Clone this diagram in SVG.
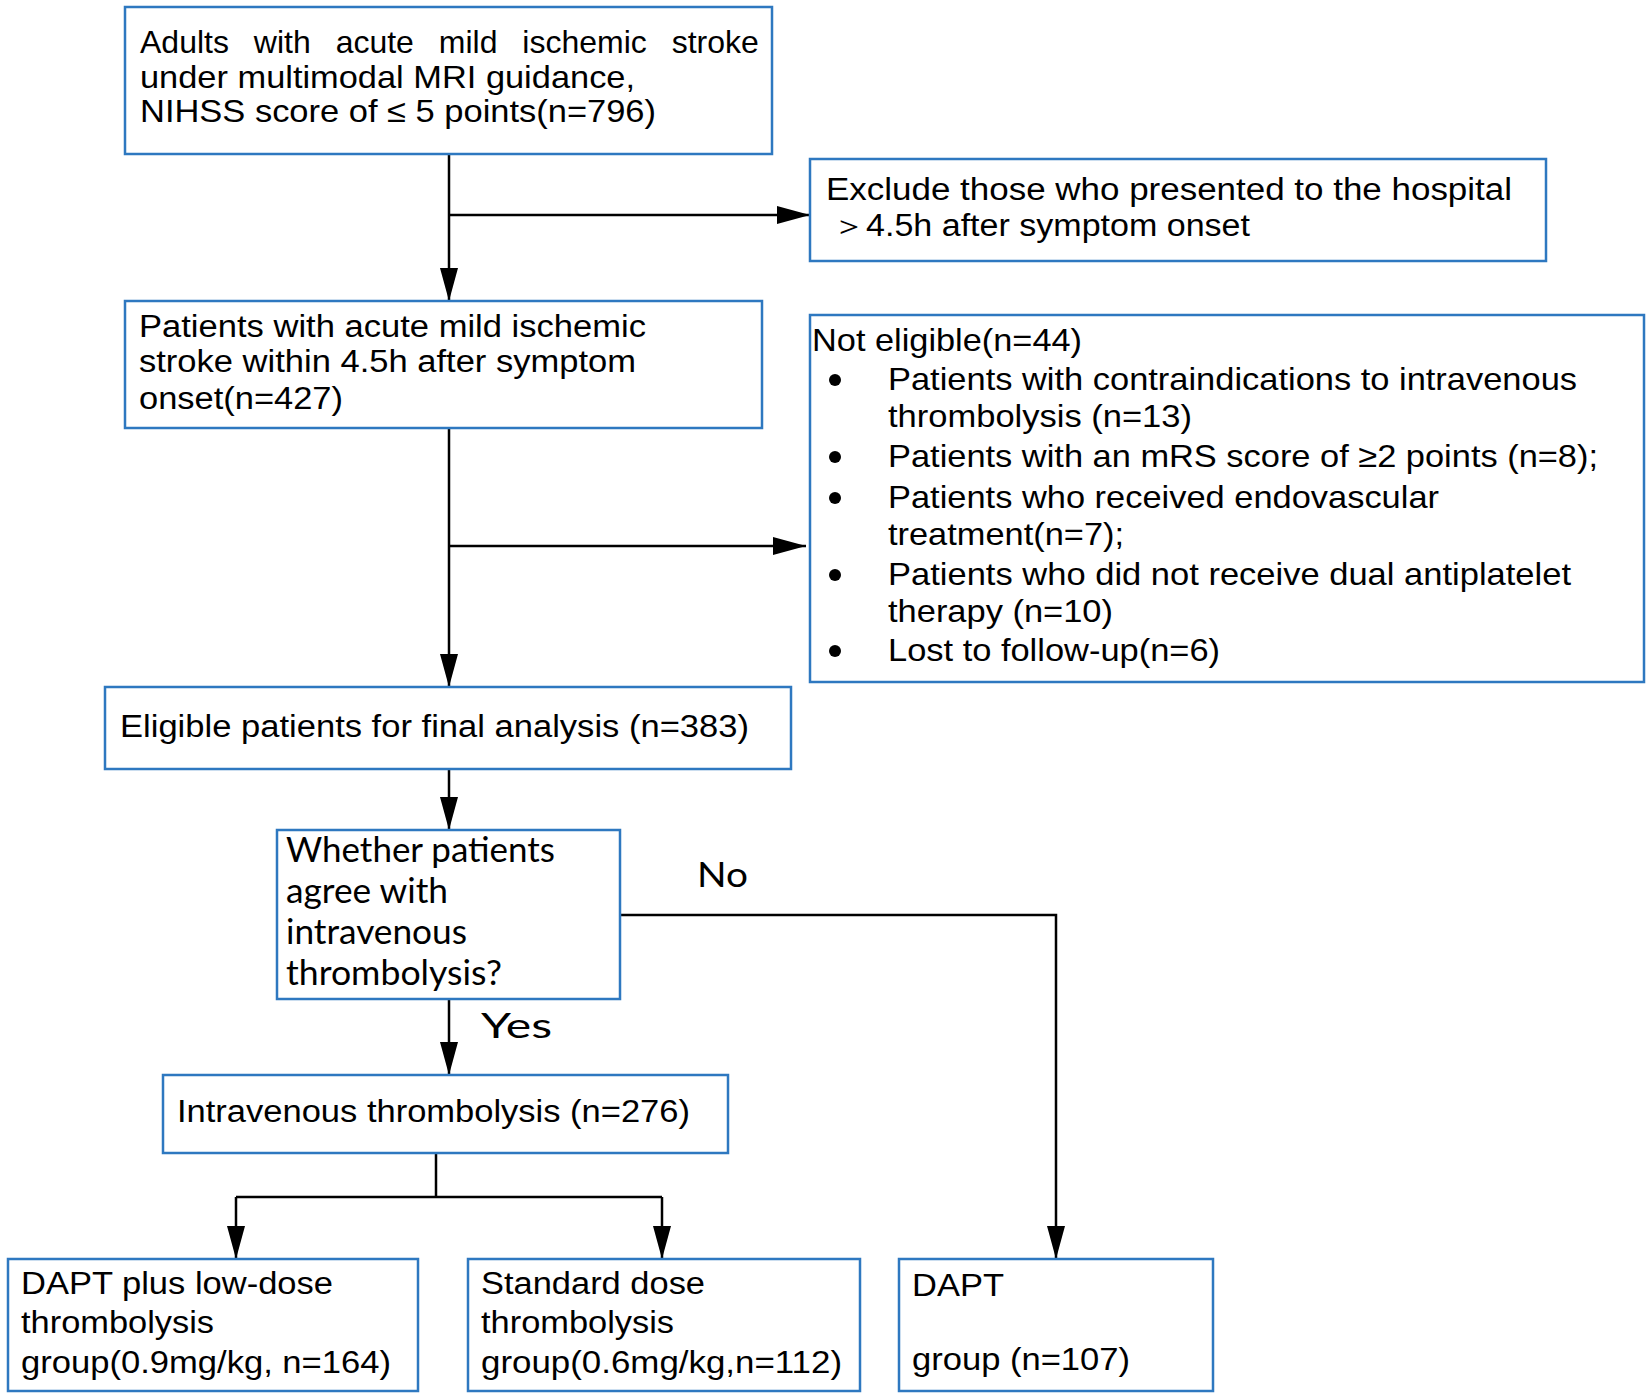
<svg xmlns="http://www.w3.org/2000/svg" width="1652" height="1399" viewBox="0 0 1652 1399">
<style>
.box{fill:#fff;stroke:#2e78c0;stroke-width:2.5}
.t{font-family:"Liberation Sans",Arial,sans-serif;font-size:31px;fill:#000}
.b1{font-family:"Liberation Sans",Arial,sans-serif;font-size:32px;fill:#000}
.n{font-family:"Liberation Sans",Arial,sans-serif;font-size:32px;fill:#000}
.c{font-family:Lato,"Open Sans",sans-serif;font-size:34px;fill:#000}
.ln{fill:none;stroke:#000;stroke-width:2.5}
</style>
<defs>
<marker id="ah" markerUnits="userSpaceOnUse" markerWidth="34" markerHeight="20" refX="33" refY="9" orient="auto">
<path d="M0,0 L33,9 L0,18 z" fill="#000"/>
</marker>
</defs>
<rect width="1652" height="1399" fill="#fff"/>
<g id="connectors">
<path class="ln" d="M449,154 V301" marker-end="url(#ah)"/>
<path class="ln" d="M449,215 H810" marker-end="url(#ah)"/>
<path class="ln" d="M449,428 V687" marker-end="url(#ah)"/>
<path class="ln" d="M449,546 H806" marker-end="url(#ah)"/>
<path class="ln" d="M449,769 V830" marker-end="url(#ah)"/>
<path class="ln" d="M449,999 V1075" marker-end="url(#ah)"/>
<path class="ln" d="M620,915 H1056 V1259" marker-end="url(#ah)"/>
<path class="ln" d="M436,1153 V1197"/>
<path class="ln" d="M236,1197 H662"/>
<path class="ln" d="M236,1197 V1259" marker-end="url(#ah)"/>
<path class="ln" d="M662,1197 V1259" marker-end="url(#ah)"/>
<text class="c" x="697" y="887" textLength="51" lengthAdjust="spacingAndGlyphs">No</text>
<text class="c" x="481" y="1038" textLength="71" lengthAdjust="spacingAndGlyphs">Yes</text>
</g>
<g id="n1">
<rect class="box" x="125" y="7" width="647" height="147"/>
<text class="b1" x="140" y="53" word-spacing="16">Adults with acute mild ischemic stroke</text>
<text class="b1" x="140" y="88" textLength="495" lengthAdjust="spacingAndGlyphs">under multimodal MRI guidance,</text>
<text class="b1" x="140" y="122" textLength="516" lengthAdjust="spacingAndGlyphs">NIHSS score of ≤ 5 points(n=796)</text>
</g>
<g id="n2">
<rect class="box" x="810" y="159" width="736" height="102"/>
<text class="t" x="826" y="200" textLength="686" lengthAdjust="spacingAndGlyphs">Exclude those who presented to the hospital</text>
<text class="t" x="832" y="236" textLength="418" lengthAdjust="spacingAndGlyphs">＞4.5h after symptom onset</text>
</g>
<g id="n3">
<rect class="box" x="125" y="301" width="637" height="127"/>
<text class="t" x="139" y="337" textLength="507" lengthAdjust="spacingAndGlyphs">Patients with acute mild ischemic</text>
<text class="t" x="139" y="372" textLength="497" lengthAdjust="spacingAndGlyphs">stroke within 4.5h after symptom</text>
<text class="t" x="139" y="409" textLength="204" lengthAdjust="spacingAndGlyphs">onset(n=427)</text>
</g>
<g id="n4">
<rect class="box" x="810" y="315" width="834" height="367"/>
<text class="n" x="812" y="351" textLength="270" lengthAdjust="spacingAndGlyphs">Not eligible(n=44)</text>
<g class="n">
<circle cx="835" cy="380" r="6"/>
<circle cx="835" cy="457" r="6"/>
<circle cx="835" cy="498" r="6"/>
<circle cx="835" cy="575" r="6"/>
<circle cx="835" cy="651" r="6"/>
</g>
<text class="n" x="888" y="390" textLength="689" lengthAdjust="spacingAndGlyphs">Patients with contraindications to intravenous</text>
<text class="n" x="888" y="427" textLength="304" lengthAdjust="spacingAndGlyphs">thrombolysis (n=13)</text>
<text class="n" x="888" y="467" textLength="710" lengthAdjust="spacingAndGlyphs">Patients with an mRS score of ≥2 points (n=8);</text>
<text class="n" x="888" y="508" textLength="551" lengthAdjust="spacingAndGlyphs">Patients who received endovascular</text>
<text class="n" x="888" y="545" textLength="236" lengthAdjust="spacingAndGlyphs">treatment(n=7);</text>
<text class="n" x="888" y="585" textLength="683" lengthAdjust="spacingAndGlyphs">Patients who did not receive dual antiplatelet</text>
<text class="n" x="888" y="622" textLength="225" lengthAdjust="spacingAndGlyphs">therapy (n=10)</text>
<text class="n" x="888" y="661" textLength="332" lengthAdjust="spacingAndGlyphs">Lost to follow-up(n=6)</text>
</g>
<g id="n5">
<rect class="box" x="105" y="687" width="686" height="82"/>
<text class="t" x="120" y="737" textLength="629" lengthAdjust="spacingAndGlyphs">Eligible patients for final analysis (n=383)</text>
</g>
<g id="n6">
<rect class="box" x="277" y="830" width="343" height="169"/>
<text class="c" x="286" y="862" textLength="269" lengthAdjust="spacingAndGlyphs">Whether patients</text>
<text class="c" x="286" y="903" textLength="162" lengthAdjust="spacingAndGlyphs">agree with</text>
<text class="c" x="286" y="944" textLength="181" lengthAdjust="spacingAndGlyphs">intravenous</text>
<text class="c" x="286" y="985" textLength="216" lengthAdjust="spacingAndGlyphs">thrombolysis?</text>
</g>
<g id="n7">
<rect class="box" x="163" y="1075" width="565" height="78"/>
<text class="t" x="177" y="1122" textLength="513" lengthAdjust="spacingAndGlyphs">Intravenous thrombolysis (n=276)</text>
</g>
<g id="n8">
<rect class="box" x="8" y="1259" width="410" height="132"/>
<text class="t" x="21" y="1294" textLength="312" lengthAdjust="spacingAndGlyphs">DAPT plus low-dose</text>
<text class="t" x="21" y="1333" textLength="193" lengthAdjust="spacingAndGlyphs">thrombolysis</text>
<text class="t" x="21" y="1373" textLength="370" lengthAdjust="spacingAndGlyphs">group(0.9mg/kg, n=164)</text>
</g>
<g id="n9">
<rect class="box" x="468" y="1259" width="392" height="132"/>
<text class="t" x="481" y="1294" textLength="224" lengthAdjust="spacingAndGlyphs">Standard dose</text>
<text class="t" x="481" y="1333" textLength="193" lengthAdjust="spacingAndGlyphs">thrombolysis</text>
<text class="t" x="481" y="1373" textLength="361" lengthAdjust="spacingAndGlyphs">group(0.6mg/kg,n=112)</text>
</g>
<g id="n10">
<rect class="box" x="899" y="1259" width="314" height="132"/>
<text class="t" x="912" y="1296" textLength="92" lengthAdjust="spacingAndGlyphs">DAPT</text>
<text class="t" x="912" y="1370" textLength="218" lengthAdjust="spacingAndGlyphs">group (n=107)</text>
</g>
</svg>
